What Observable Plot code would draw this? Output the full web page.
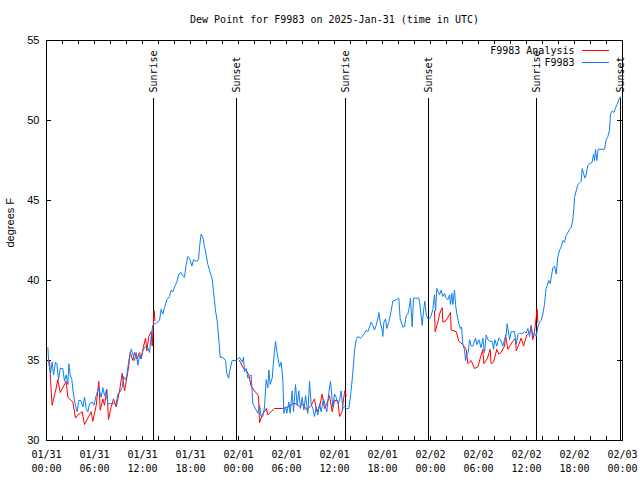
<!DOCTYPE html>
<html><head><meta charset="utf-8">
<script src="https://cdn.jsdelivr.net/npm/d3@7"></script>
<script src="https://cdn.jsdelivr.net/npm/@observablehq/plot@0.6"></script>
<style>body{margin:0;background:#fff} svg{display:block}</style>
</head><body><div id="chart"></div>
<script>
const title = "Dew Point for F9983 on 2025-Jan-31 (time in UTC)";
const yLabel = "degrees F";
const startUTC = "2025-01-31T00:00:00Z";
const endUTC = "2025-02-03T00:00:00Z";
const seriesNames = ["F9983 Analysis", "F9983"];
const seriesColors = ["#ff0000", "#0a80f5"];
const yTicks = [30, 35, 40, 45, 50, 55];
const eventHours = [13.38, 23.75, 37.38, 47.75, 61.25, 71.75];
const eventLabels = ["Sunrise", "Sunset", "Sunrise", "Sunset", "Sunrise", "Sunset"];

// [hours since 01/31 00:00 UTC, dew point F]
const analysis = [
  [0.38,35.0],[0.5,33.8],[0.71,32.2],[0.88,32.6],[1.13,33.1],[1.42,33.8],[1.71,33.0],[2.04,33.3],[2.46,33.7],[2.67,32.7],
  [3.29,32.4],[3.63,31.4],[3.92,31.6],[4.46,31.8],[4.75,31.0],[5.17,31.4],[5.58,31.8],[5.79,31.2],[6.21,32.2],[6.54,33.7],
  [6.71,31.9],[7.04,32.6],[7.25,32.2],[7.54,33.2],[7.75,31.3],[8.08,32.1],[8.38,32.6],[8.71,32.1],[9.13,33.1],[9.46,34.2],
  [9.75,33.1],[10.04,33.9],[10.29,34.7],[10.46,35.5],[10.79,35.0],[11.0,35.5],[11.29,35.1],[11.63,35.5],[11.83,35.1],[12.04,35.7],
  [12.38,36.4],[12.54,35.6],[12.79,36.5],[13.08,36.8],[13.21,35.9],[13.38,37.5],[13.46,38.1],[13.54,37.5],
  [18.0,null],
  [24.1,35.0],[24.63,34.5],[24.96,34.4],[25.29,34.1],[25.58,33.4],[26.0,33.1],[26.5,32.8],[26.63,31.1],[26.96,31.6],[27.46,32.0],
  [27.67,31.6],[28.08,31.8],[28.5,32.0],[29.54,32.0],[30.17,32.1],[30.79,32.3],[31.21,32.3],[31.63,32.1],[32.04,32.3],[32.54,31.9],
  [33.08,32.2],[33.5,32.6],[33.79,31.8],[34.13,32.1],[34.46,32.9],[34.75,32.0],[35.04,32.3],[35.38,32.8],[35.71,31.8],[36.0,32.5],
  [36.42,32.5],[36.63,31.5],[36.96,31.8],[37.13,32.6],[37.29,33.1],[37.46,32.8],
  [42.0,null],
  [48.5,38.1],[48.58,36.8],[48.92,37.4],[49.13,37.9],[49.46,38.3],[49.54,37.4],[49.96,37.5],[50.5,38.0],[50.58,36.9],[51.21,36.8],
  [51.54,36.2],[52.04,36.0],[52.46,35.7],[52.67,34.8],[53.08,35.0],[53.5,34.5],[53.92,34.6],[54.25,35.2],[54.54,35.7],[54.67,34.8],
  [55.08,35.1],[55.46,35.7],[55.58,34.8],[55.88,34.9],[56.29,35.7],[56.54,35.4],[56.83,35.5],[57.25,35.9],[57.38,36.6],[57.67,35.7],
  [58.29,36.2],[58.63,36.4],[58.71,35.6],[59.04,36.0],[59.33,36.4],[59.63,35.9],[60.04,36.6],[60.46,36.8],[60.58,37.2],[60.79,36.3],
  [61.0,36.8],[61.21,37.7],[61.33,38.2],[61.42,37.4]
];

const observed = [
  [0.17,35.8],[0.29,34.8],[0.5,34.2],[0.71,34.9],[0.88,34.1],[1.13,34.9],[1.29,34.8],[1.5,33.8],[1.71,34.5],[2.04,34.5],
  [2.25,33.7],[2.46,34.1],[2.67,33.5],[2.79,34.8],[2.96,34.1],[3.17,33.8],[3.29,33.2],[3.5,32.5],[3.71,32.0],[3.83,31.8],
  [4.04,32.5],[4.29,32.5],[4.54,32.1],[4.75,32.7],[4.96,32.0],[5.17,31.8],[5.38,32.3],[5.71,32.4],[5.92,32.2],[6.21,32.8],
  [6.54,33.3],[6.83,32.7],[7.04,33.3],[7.25,32.8],[7.46,33.1],[7.67,32.3],[8.08,32.3],[8.5,32.3],[8.71,32.3],[8.92,32.9],
  [9.13,33.0],[9.46,33.3],[9.63,34.0],[9.88,33.8],[10.04,34.1],[10.29,35.0],[10.58,35.7],[10.79,35.4],[11.0,35.0],[11.21,35.5],
  [11.42,34.7],[11.63,35.3],[11.83,35.1],[12.04,35.6],[12.38,35.9],[12.67,35.8],[12.88,35.5],[13.08,36.5],[13.29,37.2],[13.5,37.3],
  [13.63,37.3],[14.13,37.5],[14.33,38.2],[14.54,37.9],[14.75,38.3],[15.04,38.8],[15.38,39.0],[15.58,39.4],[15.79,39.3],[16.0,39.6],
  [16.29,39.9],[16.54,40.4],[16.83,40.5],[17.04,40.3],[17.25,40.2],[17.46,41.0],[17.67,41.5],[17.88,41.4],[18.17,40.9],[18.38,41.3],
  [18.71,41.2],[19.0,41.3],[19.13,42.1],[19.33,42.9],[19.54,42.7],[19.75,42.1],[19.96,41.6],[20.17,41.0],[20.46,40.5],[20.71,40.1],
  [20.88,39.3],[21.13,38.1],[21.33,37.5],[21.54,36.3],[21.71,35.2],[22.04,35.2],[22.38,35.0],[22.54,34.2],[22.75,33.9],[22.88,34.3],
  [23.21,35.0],[23.71,35.0],[24.13,35.2],[24.46,34.9],[24.63,35.2],[24.75,34.3],[24.96,34.5],[25.17,33.9],[25.38,34.0],[25.58,34.1],
  [25.79,32.3],[26.0,32.1],[26.21,31.9],[26.42,31.7],[26.63,32.2],[26.83,31.5],[27.04,31.5],[27.25,32.1],[27.46,33.8],[27.67,33.3],
  [27.79,34.4],[27.96,33.5],[28.21,33.9],[28.42,35.2],[28.63,36.2],[28.79,35.6],[28.96,35.1],[29.13,34.6],[29.33,34.9],[29.54,33.8],
  [29.67,31.7],[29.88,32.1],[30.04,31.7],[30.29,32.4],[30.46,31.7],[30.71,33.1],[30.88,31.8],[31.13,33.5],[31.33,32.2],[31.54,33.1],
  [31.75,32.0],[31.96,32.7],[32.17,31.9],[32.38,32.8],[32.67,31.7],[32.88,33.7],[33.08,32.3],[33.29,32.0],[33.5,31.5],[33.71,32.1],
  [33.92,31.6],[34.13,32.3],[34.33,31.8],[34.63,32.6],[34.88,32.1],[35.04,31.8],[35.29,33.0],[35.5,33.7],[35.79,32.1],[36.0,32.9],
  [36.21,32.7],[36.42,32.3],[36.63,32.5],[36.83,33.1],[37.04,32.0],[37.25,32.1],[37.46,32.0],[37.79,32.0],[37.96,32.6],[38.21,33.8],
  [38.38,34.8],[38.5,35.6],[38.71,36.3],[38.92,36.5],[39.21,36.4],[39.46,36.5],[39.75,36.7],[39.96,36.9],[40.17,36.8],[40.38,37.1],
  [40.58,37.4],[40.79,37.2],[41.0,36.9],[41.21,37.2],[41.42,37.6],[41.54,38.0],[41.71,37.4],[41.96,36.9],[42.04,36.5],[42.17,37.4],
  [42.38,37.6],[42.54,37.0],[42.79,37.4],[43.08,38.1],[43.29,38.7],[43.71,38.8],[44.04,38.9],[44.21,37.6],[44.54,37.1],[44.75,37.1],
  [44.96,37.8],[45.17,37.9],[45.38,38.4],[45.5,38.9],[45.71,37.1],[45.88,38.9],[46.13,38.9],[46.54,38.9],[46.63,38.7],[46.83,37.8],
  [46.96,37.2],[47.13,38.1],[47.29,38.7],[47.46,37.9],[47.67,37.6],[47.88,37.6],[48.08,37.8],[48.29,38.2],[48.5,39.1],[48.63,38.1],
  [48.79,39.5],[48.96,39.3],[49.13,39.1],[49.33,39.4],[49.54,39.0],[49.75,39.2],[49.96,38.9],[50.17,38.8],[50.38,39.1],[50.5,38.5],
  [50.67,39.2],[50.79,38.5],[51.0,39.4],[51.13,38.5],[51.29,37.9],[51.5,37.4],[51.71,37.0],[51.88,37.1],[52.04,36.0],[52.25,35.7],
  [52.38,35.0],[52.54,35.4],[52.71,35.5],[52.88,36.3],[53.08,35.9],[53.29,35.9],[53.63,36.4],[53.79,36.0],[54.04,36.3],[54.33,35.8],
  [54.54,36.4],[54.75,35.5],[54.96,36.6],[55.17,36.3],[55.38,36.2],[55.71,36.2],[55.88,35.7],[56.04,36.3],[56.29,35.9],[56.54,36.4],
  [56.75,36.3],[57.04,35.9],[57.25,36.3],[57.46,36.6],[57.58,37.3],[57.71,36.9],[57.88,36.3],[58.08,36.8],[58.29,36.8],[58.5,36.8],
  [58.71,36.0],[58.92,36.6],[59.13,36.7],[59.33,36.7],[59.54,36.7],[59.75,36.8],[59.96,36.7],[60.17,37.0],[60.38,36.5],[60.58,37.1],
  [60.79,36.6],[61.0,36.7],[61.21,36.5],[61.42,37.1],[61.63,37.4],[61.83,37.5],[62.04,37.9],[62.25,38.5],[62.38,39.2],[62.46,39.5],
  [62.79,40.0],[62.96,39.8],[63.13,40.3],[63.29,40.8],[63.5,40.9],[63.71,40.4],[63.92,41.5],[64.13,41.9],[64.33,42.1],[64.54,42.5],
  [64.75,42.4],[64.96,42.8],[65.17,43.0],[65.38,43.2],[65.58,43.3],[65.79,43.8],[65.92,44.5],[66.0,45.2],[66.21,45.6],[66.42,46.0],
  [66.63,46.1],[66.83,46.2],[66.96,47.0],[67.13,46.7],[67.29,46.4],[67.46,46.6],[67.67,47.2],[67.88,47.3],[68.21,47.4],[68.38,47.9],
  [68.5,47.5],[68.63,48.2],[68.79,47.5],[68.96,48.2],[69.33,48.2],[69.75,48.2],[69.96,48.8],[70.17,49.0],[70.38,49.4],[70.5,50.4],
  [70.71,50.6],[70.92,50.5],[71.13,50.8],[71.33,51.0],[71.54,51.3],[71.75,51.5]
];

const t0 = new Date(startUTC).getTime();
const t1 = new Date(endUTC).getTime();
const toDate = h => new Date(t0 + h * 3600000);
const ana = analysis.map(([h, v]) => ({time: toDate(h), value: v}));
const obs = observed.map(([h, v]) => ({time: toDate(h), value: v}));
const events = eventHours.map((h, i) => ({time: toDate(h), label: eventLabels[i]}));
const majorTicks = d3.utcHour.every(6).range(new Date(t0), new Date(t1 + 1));
const minorTicks = d3.utcHour.every(2).range(new Date(t0), new Date(t1 + 1));

const mono = "DejaVu Sans Mono";
const sans = "Liberation Sans";
const W = 640, H = 480, mL = 46, mR = 18, mT = 40, mB = 40;
const fw = W - mL - mR, fh = H - mT - mB;

const chart = Plot.plot({
  width: W, height: H,
  marginLeft: mL, marginRight: mR, marginTop: mT, marginBottom: mB,
  style: {fontFamily: mono, fontSize: "10px", background: "white", color: "black"},
  x: {type: "utc", domain: [new Date(t0), new Date(t1)]},
  y: {domain: [30, 55]},
  marks: [
    Plot.axisY(yTicks, {tickSize: 0, tickPadding: 7, fontFamily: sans, fontSize: 11, label: null}),
    Plot.axisX(majorTicks, {tickSize: 0, tickPadding: 8, tickFormat: d3.utcFormat("%m/%d\n%H:%M"), lineHeight: 1.4, label: null}),
    Plot.tickX(minorTicks, {x: d => d, insetTop: fh - 4, stroke: "black"}),
    Plot.tickX(minorTicks, {x: d => d, insetBottom: fh - 4, stroke: "black"}),
    Plot.tickY(yTicks, {y: d => d, insetRight: fw - 5, stroke: "black"}),
    Plot.tickY(yTicks, {y: d => d, insetLeft: fw - 5, stroke: "black"}),
    Plot.ruleX(events, {x: "time", insetTop: 58, stroke: "black"}),
    Plot.text(events, {x: "time", text: "label", rotate: -90, frameAnchor: "top", textAnchor: "start", lineAnchor: "middle", dy: 52}),
    Plot.line(ana, {x: "time", y: "value", stroke: seriesColors[0], strokeWidth: 1}),
    Plot.line(obs, {x: "time", y: "value", stroke: seriesColors[1], strokeWidth: 1}),
    Plot.frame({stroke: "black"}),
    Plot.text([title], {frameAnchor: "top", lineAnchor: "middle", dy: -21}),
    Plot.text([yLabel], {frameAnchor: "left", rotate: -90, dx: -36, dy: 7, fontFamily: sans, fontSize: 11}),
    Plot.text([seriesNames[0]], {frameAnchor: "top-right", textAnchor: "end", lineAnchor: "middle", dx: -48, dy: 10}),
    Plot.text([seriesNames[1]], {frameAnchor: "top-right", textAnchor: "end", lineAnchor: "middle", dx: -48, dy: 22})
  ]
});
document.getElementById("chart").appendChild(chart);

// legend swatches
const svg = d3.select(chart);
[0, 1].forEach(i => {
  svg.append("line")
    .attr("x1", W - mR - 40).attr("x2", W - mR - 13)
    .attr("y1", mT + 10 + 12 * i + 0.5).attr("y2", mT + 10 + 12 * i + 0.5)
    .attr("stroke", seriesColors[i]).attr("stroke-width", 1);
});
</script>
</body></html>
